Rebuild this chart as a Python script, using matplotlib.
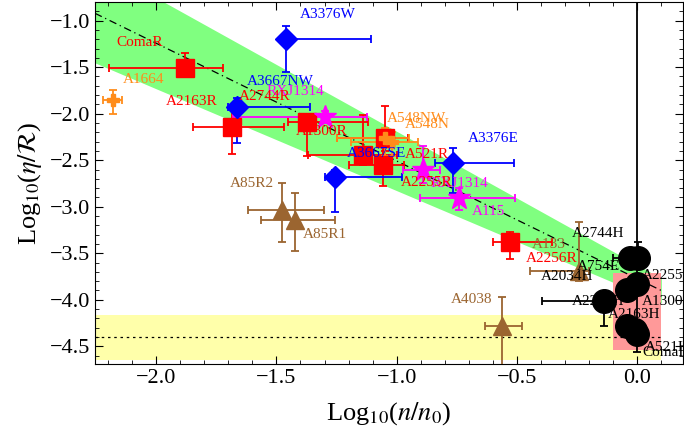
import numpy as np
import matplotlib
matplotlib.use("Agg")
import matplotlib.pyplot as plt
from matplotlib.ticker import MultipleLocator

plt.rcParams['font.family'] = ['Liberation Serif', 'DejaVu Serif']
plt.rcParams['mathtext.fontset'] = 'stix'

# ---------------- data ----------------
# radio relics (red squares)
red_names = ["ComaR", "A2163R", "A1300R", "A521R", "A2255R", "A2744R", "A2256R"]
red_x = [-1.879, -1.684, -1.371, -1.055, -1.138, -1.048, -0.528]
red_y = [-1.511, -2.138, -2.085, -2.550, -2.443, -2.263, -3.374]
red_xlo = [-2.194, -1.845, -1.450, -1.200, -1.368, -1.250, -0.600]
red_xhi = [-1.723, -1.467, -1.119, -0.970, -1.000, -0.952, -0.355]
red_ylo = [-1.600, -2.432, -2.460, -2.780, -2.550, -2.400, -3.563]
red_yhi = [-1.344, -1.950, -2.000, -2.350, -2.010, -1.920, -3.270]

# blue diamonds
blue_names = ["A3376W", "A3667NW", "A3667SE", "A3376E"]
blue_x = [-1.459, -1.664, -1.256, -0.764]
blue_y = [-1.200, -1.930, -2.682, -2.525]
blue_xlo = [-1.480, -1.700, -1.300, -0.840]
blue_xhi = [-1.106, -1.360, -0.978, -0.514]
blue_ylo = [-1.548, -2.310, -3.060, -2.850]
blue_yhi = [-1.054, -1.830, -2.600, -2.370]

# magenta stars
mag_names = ["RXJ1314", "RXJ1314", "A115"]
mag_x = [-1.297, -0.889, -0.743]
mag_y = [-2.031, -2.604, -2.908]
mag_xlo = [-1.680, -0.973, -0.902]
mag_xhi = [-1.124, -0.819, -0.507]
mag_ylo = [-2.100, -2.750, -3.030]
mag_yhi = [-1.970, -2.350, -2.800]

# orange crosses
ora_names = ["A1664", "A548NW", "A548N"]
ora_x = [-2.180, -1.048, -1.020]
ora_y = [-1.852, -2.260, -2.300]
ora_xlo = [-2.220, -1.250, -1.190]
ora_xhi = [-2.140, -0.950, -0.910]
ora_ylo = [-2.000, -2.450, -2.450]
ora_yhi = [-1.750, -2.150, -2.200]

# brown triangles
brn_names = ["A85R2", "A85R1", "A4038", "A133"]
brn_x = [-1.477, -1.422, -0.563, -0.244]
brn_y = [-3.033, -3.140, -4.287, -3.696]
brn_xlo = [-1.616, -1.565, -0.632, -0.445]
brn_xhi = [-1.304, -1.256, -0.480, -0.200]
brn_ylo = [-3.374, -3.480, -4.800, -3.800]
brn_yhi = [-2.740, -2.850, -3.975, -3.166]

# radio halos (black circles)
blk_names = ["A2744H", "A2034H", "A2255H", "A1300H", "A2219H", "A2163H", "A521H", "ComaH"]
blk_x = [-0.032, 0.001, 0.000, -0.043, -0.140, -0.043, 0.000, -0.010]
blk_y = [-3.552, -3.552, -3.828, -3.893, -4.018, -4.287, -4.365, -4.330]
blk_xlo = [-0.100, -0.020, -0.020, -0.060, -0.396, -0.060, -0.020, -0.030]
blk_xhi = [-0.010, 0.020, 0.020, -0.020, -0.100, -0.020, 0.020, 0.010]
blk_ylo = [-3.600, -3.650, -3.900, -3.950, -4.280, -4.350, -4.560, -4.400]
blk_yhi = [-3.500, -3.380, -3.750, -3.850, -3.930, -4.200, -0.500, -4.250]

# fit band (edges at the two ends of the band)
band_x = [-2.254, 0.10]
band_upper = [-0.389, -3.769]
band_lower = [-1.454, -4.032]
# yellow band and pink box
yel_lo, yel_hi, yel_mid = -4.65, -4.16, -4.40
pink_x = (-0.10, 0.10)
pink_y = (-4.537, -3.713)

# labels: (text, x, y, colour, ha)
ORANGE, BROWN = "#ff8c1a", "#9b6530"
labels = [
    ("ComaR", -2.067, -1.240, "red", "center"),
    ("A1664", -2.053, -1.637, ORANGE, "center"),
    ("A2163R", -1.852, -1.870, "red", "center"),
    ("A3667NW", -1.484, -1.655, "blue", "center"),
    ("RXJ1314", -1.422, -1.763, "magenta", "center"),
    ("A2744R", -1.547, -1.816, "red", "center"),
    ("A3376W", -1.285, -0.939, "blue", "center"),
    ("A1300R", -1.311, -2.192, "red", "center"),
    ("A548NW", -0.916, -2.048, ORANGE, "center"),
    ("A548N", -0.874, -2.120, ORANGE, "center"),
    ("A3667SE", -1.082, -2.424, "blue", "center"),
    ("A521R", -0.874, -2.443, "red", "center"),
    ("A3376E", -0.597, -2.263, "blue", "center"),
    ("RXJ1314", -0.740, -2.755, "magenta", "center"),
    ("A2255R", -0.874, -2.740, "red", "center"),
    ("A115", -0.618, -3.052, "magenta", "center"),
    ("A85R2", -1.602, -2.747, BROWN, "center"),
    ("A85R1", -1.297, -3.302, BROWN, "center"),
    ("A133", -0.369, -3.409, BROWN, "center"),
    ("A2256R", -0.355, -3.552, "red", "center"),
    ("A4038", -0.687, -4.000, BROWN, "center"),
    ("A2744H", -0.161, -3.291, "black", "center"),
    ("A754E", -0.162, -3.642, "black", "center"),
    ("A2034H", -0.292, -3.750, "black", "center"),
    ("A2255H", 0.017, -3.742, "black", "left"),
    ("A2219H", -0.162, -4.018, "black", "center"),
    ("A1300H", 0.017, -4.018, "black", "left"),
    ("A2163H", -0.121, -4.161, "black", "left"),
    ("A521H", 0.033, -4.512, "black", "left"),
    ("ComaH", 0.020, -4.569, "black", "left"),
]

fig = plt.figure(figsize=(6.84, 4.36), dpi=100)
ax = fig.add_axes([95/684, 72/436, 588/684, 362/436])
xmin, xmax, ymin, ymax = -2.254, 0.19, -4.69, -0.80

# background bands
ax.axhspan(yel_lo, yel_hi, xmin=0, xmax=(band_x[1] - xmin)/(xmax - xmin), color="#ffffaa", zorder=0, lw=0)
ax.plot([xmin, band_x[1]], [yel_mid, yel_mid], ls=(0, (2, 3)), color="black", lw=0.9, zorder=1)
ax.fill_between(band_x, band_lower, band_upper, color="#80ff80", lw=0, zorder=0.5)
band_mid = [(a + b) / 2 for a, b in zip(band_lower, band_upper)]
ax.plot(band_x, band_mid, ls=(0, (6, 3, 1, 3)), color="black", lw=0.9, zorder=1)
ax.fill_between(pink_x, pink_y[0], pink_y[1], color="#ff9999", lw=0, zorder=0.6)

def draw(xs, ys, xlo, xhi, ylo, yhi, color, marker, ms):
    xs, ys = np.array(xs), np.array(ys)
    xerr = [xs - np.array(xlo), np.array(xhi) - xs]
    yerr = [ys - np.array(ylo), np.array(yhi) - ys]
    ax.errorbar(xs, ys, xerr=xerr, yerr=yerr, fmt=marker, color=color, ms=ms,
                ecolor=color, elinewidth=1.3, capsize=3, capthick=1.3, zorder=3)

draw(red_x, red_y, red_xlo, red_xhi, red_ylo, red_yhi, "red", "s", 13)
draw(blue_x, blue_y, blue_xlo, blue_xhi, blue_ylo, blue_yhi, "blue", "D", 11)
draw(mag_x, mag_y, mag_xlo, mag_xhi, mag_ylo, mag_yhi, "magenta", "*", 17)
draw(ora_x, ora_y, ora_xlo, ora_xhi, ora_ylo, ora_yhi, ORANGE, "P", 9)
draw(brn_x, brn_y, brn_xlo, brn_xhi, brn_ylo, brn_yhi, BROWN, "^", 13)
draw(blk_x, blk_y, blk_xlo, blk_xhi, blk_ylo, blk_yhi, "black", "o", 17)

for t, lx, ly, c, ha in labels:
    ax.text(lx, ly, t, color=c, fontsize=11, ha=ha, va="center", zorder=4, clip_on=False)

ax.set_xlim(xmin, xmax)
ax.set_ylim(ymin, ymax)
ax.xaxis.set_major_locator(MultipleLocator(0.5))
ax.xaxis.set_minor_locator(MultipleLocator(0.1))
ax.yaxis.set_major_locator(MultipleLocator(0.5))
ax.yaxis.set_minor_locator(MultipleLocator(0.1))
ax.tick_params(which="both", direction="in", top=True, right=True, labelsize=16)
ax.tick_params(which="major", length=6)
ax.tick_params(which="minor", length=3)
ax.set_xlabel(r"Log$_{10}$($n/n_0$)", fontsize=19, labelpad=9)
ax.set_ylabel(r"Log$_{10}$($\eta/\mathcal{R}$)", fontsize=19, labelpad=4)

fig.savefig("out.png", dpi=100)
